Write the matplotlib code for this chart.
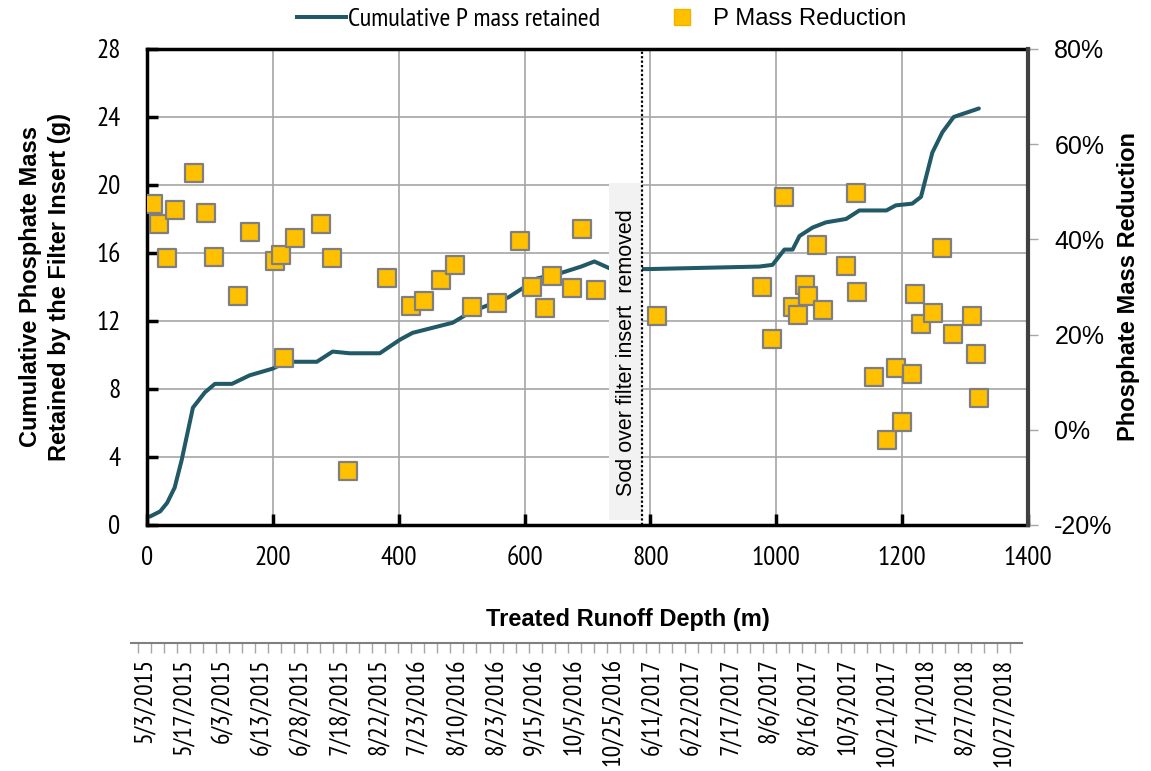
import matplotlib
matplotlib.use('Agg')
import matplotlib.pyplot as plt
from matplotlib.lines import Line2D
from matplotlib.ticker import PercentFormatter, FixedLocator, MultipleLocator

plt.rcParams['font.family'] = ['PT Sans Narrow', 'Asap Condensed', 'Liberation Sans', 'DejaVu Sans']
plt.rcParams['axes.unicode_minus'] = False
WIDE = ['Liberation Sans', 'DejaVu Sans']

# cumulative P mass retained (g) vs treated runoff depth (m)
depth_line = [5, 21, 32, 44, 55, 73, 92, 108, 135, 163, 200, 222, 270, 295, 322, 370,
              402, 422, 486, 513, 540, 575, 600, 620, 656, 690, 711, 735, 794, 973,
              994, 1013, 1026, 1037, 1058, 1079, 1111, 1132, 1175, 1190, 1216, 1230,
              1248, 1264, 1282, 1322]
mass_line = [0.5, 0.8, 1.3, 2.2, 3.8, 6.9, 7.8, 8.3, 8.3, 8.8, 9.2, 9.6, 9.6, 10.2, 10.1, 10.1,
             10.9, 11.3, 11.9, 12.5, 12.9, 13.4, 14.0, 14.5, 14.8, 15.2, 15.5, 15.1, 15.05, 15.2,
             15.3, 16.2, 16.2, 17.0, 17.5, 17.8, 18.0, 18.5, 18.5, 18.8, 18.9, 19.3,
             21.9, 23.1, 24.0, 24.5]

# event P mass reduction (%)
depth_pts = [9, 19, 32, 44, 75, 93, 106, 144, 163, 203, 213, 217, 235, 276, 294, 319,
             382, 420, 441, 467, 489, 516, 557, 592, 612, 633, 644, 676, 692, 714,
             811, 978, 994, 1013, 1026, 1035, 1046, 1051, 1065, 1075, 1111, 1127, 1129,
             1156, 1176, 1190, 1200, 1216, 1220, 1230, 1249, 1264, 1281, 1311, 1317, 1322]
reduction = [47.5, 43.3, 36.1, 46.2, 54.0, 45.6, 36.3, 28.2, 41.6, 35.5, 36.8, 15.1, 40.3, 43.3, 36.1, -8.6,
             31.9, 26.1, 27.1, 31.5, 34.7, 25.8, 26.7, 39.7, 30.0, 25.6, 32.3, 29.8, 42.2, 29.4,
             24.0, 30.0, 19.1, 48.9, 25.8, 24.2, 30.5, 28.0, 38.9, 25.2, 34.5, 49.7, 28.9,
             11.1, -2.1, 13.0, 1.7, 11.8, 28.6, 22.3, 24.6, 38.2, 20.2, 24.0, 16.0, 6.7]

event_dates = ['5/3/2015', '5/17/2015', '6/3/2015', '6/13/2015', '6/28/2015', '7/18/2015',
               '8/22/2015', '7/23/2016', '8/10/2016', '8/23/2016', '9/15/2016', '10/5/2016',
               '10/25/2016', '6/11/2017', '6/22/2017', '7/17/2017', '8/6/2017', '8/16/2017',
               '10/3/2017', '10/21/2017', '7/1/2018', '8/27/2018', '10/27/2018']

sod_depth = 786

line_color = '#215967'
gold = '#FFC000'

fig = plt.figure(figsize=(11.51, 7.71), dpi=100)
ax = fig.add_axes([0.1277, 0.3191, 0.7654, 0.6174])
ax2 = ax.twinx()

ax.plot(depth_line, mass_line, color=line_color, lw=2.9, solid_capstyle='round')
ax.set_xlim(0, 1400)
ax.set_ylim(0, 28)
ax.xaxis.set_major_locator(MultipleLocator(200))
ax.yaxis.set_major_locator(MultipleLocator(4))
ax.grid(True, color='#A6A6A6', lw=1.2)
ax.set_axisbelow(True)
ax.tick_params(axis='both', direction='in', length=8, width=2.5, color='black', labelsize=19.5)
ax.tick_params(axis='y', pad=19)
ax.tick_params(axis='x', pad=15)
for s in ['left', 'bottom', 'top']:
    ax.spines[s].set_linewidth(2.5)
    ax.spines[s].set_color('black')

ax2.scatter(depth_pts, [r / 100 for r in reduction], marker='s', s=150,
            facecolor=gold, edgecolor='#7F7F7F', linewidth=1.6, zorder=3)
ax2.set_ylim(-0.2, 0.8)
ax2.yaxis.set_major_locator(MultipleLocator(0.2))
ax2.yaxis.set_major_formatter(PercentFormatter(1.0, decimals=0))
ax2.tick_params(axis='y', direction='out', length=7, width=1, color='#A6A6A6', labelsize=18, pad=12)
for lab in ax2.get_yticklabels():
    lab.set_family(WIDE)
ax2.spines['right'].set_linewidth(3)
ax2.spines['right'].set_color('#404040')
for s in ['left', 'bottom', 'top']:
    ax2.spines[s].set_visible(False)

# sod placement marker
ax2.axvspan(735, sod_depth, ymin=0.01, ymax=0.718, color='#F2F2F2', lw=0, zorder=2.2)
ax2.axvline(sod_depth, color='black', ls=(0, (1, 1)), lw=1.6, zorder=2.6)
ax2.text(762, 0.162, 'Sod over filter insert  removed', rotation=90, ha='center', va='center',
         fontsize=15.5, family=WIDE, zorder=2.5)

ax.set_ylabel('Cumulative Phosphate Mass\nRetained by the Filter Insert (g)', fontsize=17,
              fontweight='bold', family=WIDE, linespacing=1.35)
ax.yaxis.set_label_coords(-0.0857, 0.5)
ax2.set_ylabel('Phosphate Mass Reduction', fontsize=17, fontweight='bold', family=WIDE)
ax2.yaxis.set_label_coords(1.101, 0.5)
ax.set_xlabel('Treated Runoff Depth (m)', fontsize=17, fontweight='bold', family=WIDE)
ax.xaxis.set_label_coords(0.546, -0.175)

line_handle = Line2D([], [], color=line_color, lw=2.9)
square_handle = Line2D([], [], marker='s', ls='none', markersize=11.5, markerfacecolor=gold,
                       markeredgecolor='#F0B400')
fig.legend([line_handle], ['Cumulative P mass retained'], loc='center left',
           bbox_to_anchor=(0.258, 0.975), frameon=False, fontsize=19,
           handlelength=1.85, handletextpad=0.1, borderpad=0, borderaxespad=0)
fig.legend([square_handle], ['P Mass Reduction'], loc='center left',
           bbox_to_anchor=(0.582, 0.975), frameon=False, prop=dict(family=WIDE, size=17.2),
           handlelength=1.05, handletextpad=0.75, borderpad=0, borderaxespad=0)

# event date axis
axd = fig.add_axes([0.1138, 0.166, 0.7741, 0.0001])
for s in ['left', 'right', 'top']:
    axd.spines[s].set_visible(False)
axd.spines['bottom'].set_color('#808080')
axd.spines['bottom'].set_linewidth(1.5)
axd.set_yticks([])
axd.set_xlim(-0.54, 67.9)
axd.xaxis.set_major_locator(FixedLocator([3 * i + 0.5 for i in range(len(event_dates))]))
axd.set_xticklabels(event_dates, rotation=90)
axd.xaxis.set_minor_locator(FixedLocator(list(range(0, 68))))
axd.tick_params(axis='x', which='major', length=0, labelsize=18.5, pad=11)
axd.tick_params(axis='x', which='minor', length=7, width=1, color='#A6A6A6')

fig.savefig('out.png', dpi=100)
